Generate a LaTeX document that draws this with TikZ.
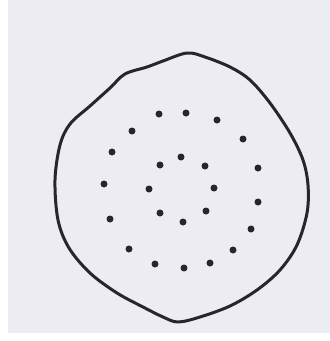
\documentclass[tikz,border=0pt]{standalone}
\usepackage{tikz}
\definecolor{paper}{RGB}{236,236,242}
\definecolor{ink}{RGB}{38,38,44}
\tikzset{
  outline/.style={draw=ink, line width=3pt, line join=round},
  pore/.style={circle, fill=ink, inner sep=0pt, minimum size=7pt}
}

\begin{document}
\begin{tikzpicture}[x=1pt, y=-1pt]

  % Scanned page background
  \fill[white] (0,0) rectangle (330,341);
  \fill[paper] (8,0) rectangle (330,333);
  \useasboundingbox (0,0) rectangle (330,341);

  % Cell outline
  \draw[outline] plot[smooth cycle, tension=0.55] coordinates {
    (187,53) (205,57) (230,67) (250,80) (270,103) (290,133) (303,160)
    (308,185) (307,213) (297,245) (280,270) (257,290) (230,306) (200,317)
    (178,322) (163,317) (143,307) (117,293) (90,273) (69,248) (58,220)
    (55,180) (60,145) (70,124) (90,106) (110,88) (125,74) (147,67) (163,61)
  };

  % Outer ring of pores
  \foreach \x/\y [count=\i] in {159/114, 186/113, 217/120, 243/139, 258/168,
      258/202, 251/229, 233/250, 210/263, 184/268, 155/264, 129/249,
      110/219, 104/184, 112/152, 132/131}
    \node[pore] (outer\i) at (\x,\y) {};

  % Inner ring of pores
  \foreach \x/\y [count=\i] in {181/157, 205/166, 214/188, 206/211,
      183/222, 160/213, 149/189, 160/165}
    \node[pore] (inner\i) at (\x,\y) {};

\end{tikzpicture}
\end{document}
